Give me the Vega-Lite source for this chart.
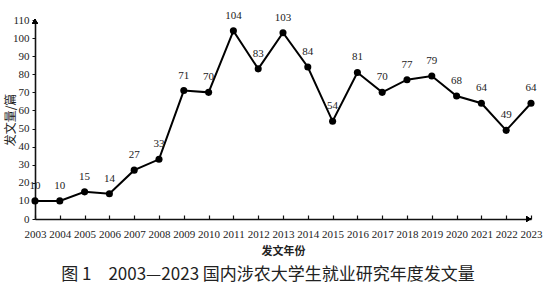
{
  "$schema": "https://vega.github.io/schema/vega-lite/v6.json",
  "width": 496,
  "height": 199,
  "autosize": {"type": "none"},
  "padding": {"left": 35, "top": 20, "right": 16, "bottom": 75},
  "background": "white",
  "title": {
    "text": "图 1　2003—2023 国内涉农大学生就业研究年度发文量",
    "orient": "bottom",
    "anchor": "middle",
    "frame": "group",
    "font": "Noto Sans CJK SC",
    "fontSize": 17,
    "fontWeight": "normal",
    "color": "#222",
    "offset": 11,
    "dx": -15
  },
  "data": {
    "values": [
      {"year": 2003, "count": 10},
      {"year": 2004, "count": 10},
      {"year": 2005, "count": 15},
      {"year": 2006, "count": 14},
      {"year": 2007, "count": 27},
      {"year": 2008, "count": 33},
      {"year": 2009, "count": 71},
      {"year": 2010, "count": 70},
      {"year": 2011, "count": 104},
      {"year": 2012, "count": 83},
      {"year": 2013, "count": 103},
      {"year": 2014, "count": 84},
      {"year": 2015, "count": 54},
      {"year": 2016, "count": 81},
      {"year": 2017, "count": 70},
      {"year": 2018, "count": 77},
      {"year": 2019, "count": 79},
      {"year": 2020, "count": 68},
      {"year": 2021, "count": 64},
      {"year": 2022, "count": 49},
      {"year": 2023, "count": 64}
    ]
  },
  "encoding": {
    "x": {
      "field": "year",
      "type": "quantitative",
      "scale": {"domain": [2003, 2023], "nice": false, "zero": false},
      "axis": {
        "values": [2003,2004,2005,2006,2007,2008,2009,2010,2011,2012,2013,2014,2015,2016,2017,2018,2019,2020,2021,2022,2023],
        "format": "d",
        "grid": false,
        "tickSize": -4,
        "tickColor": "#111",
        "tickWidth": 1.2,
        "domainColor": "#111",
        "domainWidth": 1.6,
        "labelFont": "Liberation Serif",
        "labelFontSize": 11,
        "labelColor": "#222",
        "labelPadding": 13,
        "labelOverlap": false,
        "labelFlush": false,
        "title": "发文年份",
        "titleFont": "Noto Sans CJK SC",
        "titleFontSize": 11,
        "titleFontWeight": "bold",
        "titleColor": "#222",
        "titlePadding": 6
      }
    },
    "y": {
      "field": "count",
      "type": "quantitative",
      "scale": {"domain": [0, 110], "nice": false},
      "axis": {
        "values": [0,10,20,30,40,50,60,70,80,90,100,110],
        "grid": false,
        "tickSize": 3,
        "tickColor": "#111",
        "domainColor": "#111",
        "domainWidth": 1.6,
        "labelFont": "Liberation Serif",
        "labelFontSize": 11,
        "labelColor": "#222",
        "labelPadding": 3,
        "title": "发文量/篇",
        "titleFont": "Noto Sans CJK SC",
        "titleFontSize": 12,
        "titleFontWeight": "normal",
        "titleColor": "#222",
        "titleX": -25,
        "titleY": 99.5,
        "titleBaseline": "middle",
        "titleAngle": 270
      }
    }
  },
  "layer": [
    {"mark": {"type": "line", "color": "#000", "strokeWidth": 2}},
    {"mark": {"type": "point", "filled": true, "color": "#000", "size": 50, "opacity": 1}},
    {
      "mark": {"type": "text", "dy": -15, "font": "Liberation Serif", "fontSize": 11, "color": "#222"},
      "encoding": {"text": {"field": "count", "type": "quantitative"}}
    },
    {
      "mark": {"type": "point", "shape": "triangle-right", "filled": true, "color": "#000", "size": 30, "opacity": 1},
      "encoding": {"x": {"datum": 2022.9}, "y": {"datum": 0}}
    },
    {
      "mark": {"type": "point", "shape": "triangle-up", "filled": true, "color": "#000", "size": 30, "opacity": 1},
      "encoding": {"x": {"datum": 2003}, "y": {"datum": 109.3}}
    }
  ],
  "config": {"view": {"stroke": null}}
}
